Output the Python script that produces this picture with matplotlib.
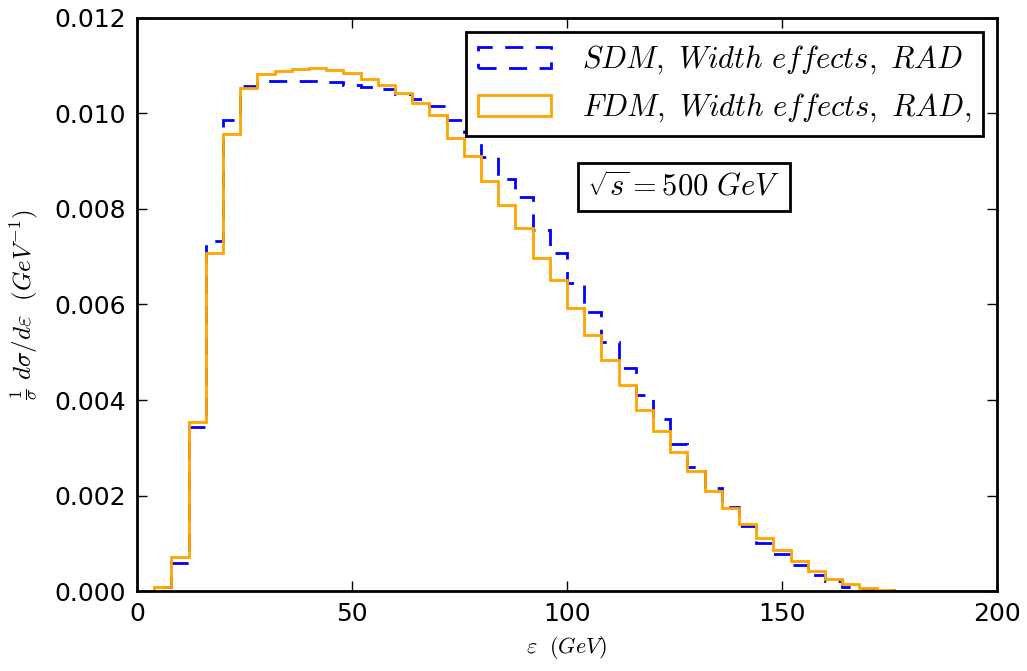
import numpy as np
import matplotlib
matplotlib.use("Agg")
import matplotlib.pyplot as plt

plt.rcParams["mathtext.fontset"] = "cm"
plt.rcParams["font.family"] = "DejaVu Sans"

# bin edges in GeV (4 GeV bins, 0-200)
edges = np.arange(0, 204, 4)
centers = 0.5 * (edges[:-1] + edges[1:])

# normalised distributions, one value per bin
sdm = [0.00001, 0.00008, 0.00059, 0.00343, 0.00732, 0.00986, 0.01057, 0.01068,
       0.01069, 0.01068, 0.01067, 0.01065, 0.01060, 0.01056, 0.01051, 0.01040,
       0.01030, 0.01016, 0.00986, 0.00962, 0.00909, 0.00862, 0.00826, 0.00757,
       0.00707, 0.00644, 0.00585, 0.00522, 0.00468, 0.00410, 0.00360, 0.00307,
       0.00260, 0.00215, 0.00175, 0.00136, 0.00101, 0.00077, 0.00055, 0.00034,
       0.00020, 0.00009, 0.00004, 0.00002, 0.00001, 0.00001, 0.0, 0.0, 0.0, 0.0]
fdm = [0.00001, 0.00008, 0.00071, 0.00354, 0.00708, 0.00956, 0.01054, 0.01082,
       0.01090, 0.01093, 0.01095, 0.01092, 0.01084, 0.01072, 0.01060, 0.01042,
       0.01022, 0.00997, 0.00949, 0.00912, 0.00859, 0.00808, 0.00760, 0.00698,
       0.00652, 0.00592, 0.00536, 0.00484, 0.00431, 0.00380, 0.00335, 0.00291,
       0.00251, 0.00210, 0.00174, 0.00140, 0.00112, 0.00086, 0.00063, 0.00042,
       0.00026, 0.00015, 0.00007, 0.00003, 0.00001, 0.0, 0.0, 0.0, 0.0, 0.0]

fig = plt.figure(figsize=(10.27, 6.71), dpi=100)
ax = fig.add_axes([0.1334, 0.1192, 0.8374, 0.854])

ax.hist(centers, bins=edges, weights=sdm, histtype="step", color="b", lw=2,
        linestyle=(0, (6.5, 4.5)), label=r"$SDM,\ Width\ effects,\ RAD$")
ax.hist(centers, bins=edges, weights=fdm, histtype="step", color="orange", lw=2,
        label=r"$FDM,\ Width\ effects,\ RAD,$")

ax.set_xlim(0, 200)
ax.set_ylim(0, 0.012)
ax.set_xticks([0, 50, 100, 150, 200])
ax.set_yticks(np.arange(0, 0.0121, 0.002))
ax.yaxis.set_major_formatter(matplotlib.ticker.FormatStrFormatter("%.3f"))
ax.tick_params(direction="in", top=True, right=True, length=7, width=1,
               labelsize=18, pad=8)
for s in ax.spines.values():
    s.set_linewidth(2)

ax.set_xlabel(r"$\varepsilon\ \ (GeV)$", fontsize=16, labelpad=6)
ax.set_ylabel(r"$\frac{1}{\sigma}\ d\sigma/d\varepsilon\ \ (GeV^{-1})$",
              fontsize=18, labelpad=10)

leg = ax.legend(loc="upper right", fontsize=22, fancybox=False, framealpha=1,
                handlelength=2.4, handletextpad=1.0, borderaxespad=0.45)
leg.get_frame().set_edgecolor("k")
leg.get_frame().set_linewidth(2)

ax.text(0.636, 0.705, r"$\sqrt{s}=500\ GeV$", transform=ax.transAxes,
        ha="center", va="center", fontsize=22,
        bbox=dict(boxstyle="square,pad=0.3", fc="w", ec="k", lw=2))

fig.savefig("out.png", dpi=100)
